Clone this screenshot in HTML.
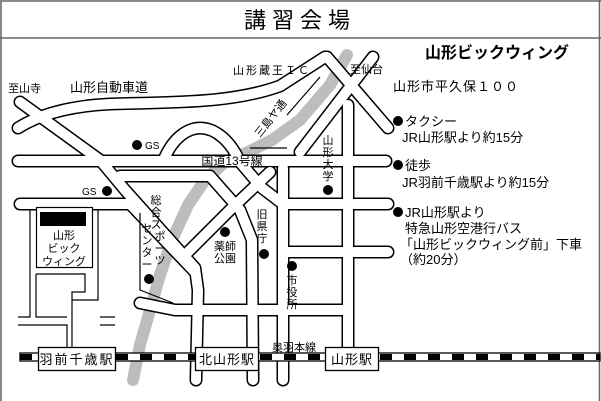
<!DOCTYPE html>
<html><head><meta charset="utf-8"><style>
html,body{margin:0;padding:0;background:#fff}
body{width:601px;height:401px;overflow:hidden;position:relative;font-family:"Liberation Sans","Noto Sans CJK JP",sans-serif}
svg{position:absolute;left:0;top:0}
</style></head><body>
<svg width="601" height="401" viewBox="0 0 601 401" xmlns="http://www.w3.org/2000/svg" font-family="Liberation Sans, Noto Sans CJK JP, sans-serif">
<line x1="0" y1="1" x2="601" y2="1" stroke="#666" stroke-width="1.5"/>
<line x1="1" y1="0" x2="1" y2="401" stroke="#888" stroke-width="2"/>
<line x1="599.5" y1="0" x2="599.5" y2="401" stroke="#666" stroke-width="1.5"/>
<line x1="0" y1="38" x2="601" y2="38" stroke="#666" stroke-width="1.5"/>
<text x="300" y="28" font-size="22" text-anchor="middle" letter-spacing="6">講習会場</text>

<path d="M347,55 L330,85 L300,120 L272,140 L248,152 L225,162 L205,180 L188,205 L172,240 L160,275 L150,310 L140,345 L133,380" fill="none" stroke="#bdbdbd" stroke-width="12" stroke-linecap="round" stroke-linejoin="round"/>

<g fill="none" stroke-linecap="round" stroke-linejoin="round">
<g stroke="#000" stroke-width="13">
<path d="M18,128 C40,114 70,106 110,104 C170,102 230,104 280,86 L325,57"/>
<path d="M20,102 L100,160 L125,190 L195,268 L198,290 L196,380"/>
<path d="M130,204 L195,272"/>
<path d="M120,176 L210,176 L240,210 L252,240 L253,380"/>
<path d="M270,172 L230,210 L185,255"/>
<path d="M165,157 C175,135 190,128 200,128 C215,128 230,140 240,162 L262,188 L283,204"/>
<path d="M327,57 L388,128"/>
<path d="M373,57 L300,152"/>
<path d="M18,161 L386,161"/>
<path d="M20,204 L130,204"/>
<path d="M283,168 L283,380"/>
<path d="M348,105 L348,352"/>
<path d="M283,204 L388,204"/>
<path d="M283,252 L388,252"/>
<path d="M140,303 L175,310 L348,310"/>
</g>
<g stroke="#fff" stroke-width="10">
<path d="M18,128 C40,114 70,106 110,104 C170,102 230,104 280,86 L325,57"/>
<path d="M20,102 L100,160 L125,190 L195,268 L198,290 L196,380"/>
<path d="M130,204 L195,272"/>
<path d="M120,176 L210,176 L240,210 L252,240 L253,380"/>
<path d="M270,172 L230,210 L185,255"/>
<path d="M165,157 C175,135 190,128 200,128 C215,128 230,140 240,162 L262,188 L283,204"/>
<path d="M327,57 L388,128"/>
<path d="M373,57 L300,152"/>
<path d="M18,161 L386,161"/>
<path d="M20,204 L130,204"/>
<path d="M283,168 L283,380"/>
<path d="M348,105 L348,352"/>
<path d="M283,204 L388,204"/>
<path d="M283,252 L388,252"/>
<path d="M140,303 L175,310 L348,310"/>
</g>
</g>
<g fill="none" stroke="#000" stroke-width="1.2">
<path d="M320,77 L287,115 M250,148 L287,148"/>
<path d="M30,210 L30,317 L18,317"/>
<path d="M18,325 L67,325 L67,350"/>
<path d="M36,274 L36,317 L67,317"/>
<path d="M36,274 L85,274 L85,292 L72,292 L72,350"/>
<path d="M98,210 L98,300 L72,300"/>
<path d="M100,317 L115,317 M100,325 L115,325"/>
<path d="M140,213 L140,290 L173,303"/>
</g>
<rect x="36.5" y="207.5" width="56" height="60" fill="#fff" stroke="#000" stroke-width="1.2"/>
<rect x="40" y="212" width="46" height="14" fill="#000"/>
<text x="64" y="239" font-size="11" text-anchor="middle">山形</text>
<text x="64" y="252" font-size="11" text-anchor="middle">ビック</text>
<text x="64" y="265" font-size="11" text-anchor="middle">ウィング</text>

<rect x="20" y="353" width="580" height="8" fill="#fff" stroke="#000" stroke-width="1.3"/>
<line x1="20" y1="357" x2="600" y2="357" stroke="#000" stroke-width="6" stroke-dasharray="12 12"/>
<g fill="#fff" stroke="#000" stroke-width="1.3">
<rect x="38.5" y="347.5" width="77" height="23"/>
<rect x="195.5" y="347.5" width="63" height="23"/>
<rect x="325.5" y="347.5" width="53" height="23"/>
</g>
<g font-size="13" text-anchor="middle">
<text x="77" y="364" letter-spacing="2">羽前千歳駅</text>
<text x="227" y="364" letter-spacing="1">北山形駅</text>
<text x="352" y="364" letter-spacing="1">山形駅</text>
</g>
<text x="294" y="351" font-size="11" text-anchor="middle">奥羽本線</text>

<g fill="#000">
<circle cx="137" cy="145" r="5"/>
<circle cx="107" cy="191" r="5"/>
<circle cx="328" cy="190" r="5"/>
<circle cx="225" cy="232" r="5"/>
<circle cx="264" cy="254" r="5"/>
<circle cx="292" cy="266" r="5"/>
<circle cx="149" cy="279" r="5"/>
<circle cx="398" cy="121" r="5"/>
<circle cx="398" cy="165" r="5"/>
<circle cx="398" cy="212" r="5"/>
</g>
<g font-size="10">
<text x="145" y="149">GS</text>
<text x="82" y="195">GS</text>
</g>
<text x="232" y="165" font-size="12" text-anchor="middle">国道13号線</text>
<g font-size="11" text-anchor="middle">
<text x="328" y="144">山</text><text x="328" y="156">形</text><text x="328" y="168">大</text><text x="328" y="180">学</text>
<text x="156" y="204">総</text><text x="156" y="216">合</text><text x="156" y="228">ス</text><text x="160" y="240">ポ</text><text x="160" y="252">ー</text><text x="160" y="264">ツ</text>
<text x="147" y="232">セ</text><text x="147" y="244">ン</text><text x="147" y="256">タ</text><text x="147" y="268">ー</text>
<text x="262" y="218">旧</text><text x="262" y="230">県</text><text x="262" y="242">庁</text>
<text x="292" y="284">市</text><text x="292" y="296">役</text><text x="292" y="308">所</text>
<text x="225" y="250">薬師</text><text x="225" y="262">公園</text>
</g>
<text x="0" y="0" font-size="11" transform="translate(260,138) rotate(-52)">三島ヤ通</text>

<text x="233" y="74" font-size="11" letter-spacing="2">山形蔵王ＩＣ</text>
<text x="350" y="73" font-size="11">至仙台</text>
<text x="8" y="92" font-size="11">至山寺</text>
<text x="70" y="92" font-size="13">山形自動車道</text>

<text x="425" y="58" font-size="16" font-weight="bold">山形ビックウィング</text>
<text x="393" y="91" font-size="13" letter-spacing="1">山形市平久保１００</text>
<g font-size="13">
<text x="405" y="126">タクシー</text>
<text x="402" y="142">JR山形駅より約15分</text>
<text x="405" y="170">徒歩</text>
<text x="402" y="187">JR羽前千歳駅より約15分</text>
<text x="405" y="217">JR山形駅より</text>
<text x="405" y="233">特急山形空港行バス</text>
<text x="400" y="249">「山形ビックウィング前」下車</text>
<text x="400" y="264">（約20分）</text>
</g>
</svg>
</body></html>
